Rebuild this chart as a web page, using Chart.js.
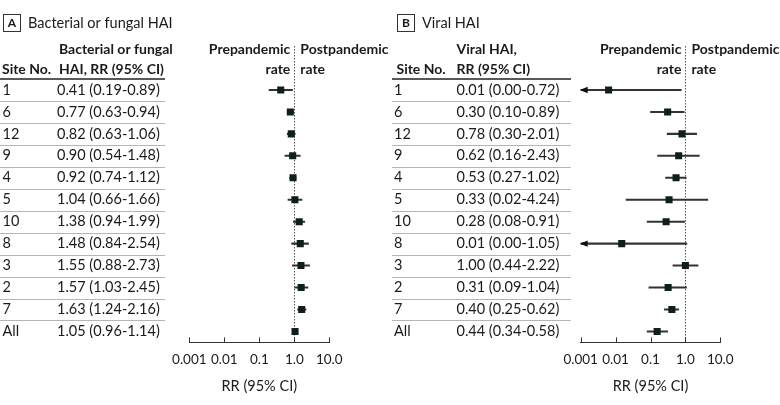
<!DOCTYPE html>
<html>
<head>
<meta charset="utf-8">
<script src="https://cdn.jsdelivr.net/npm/chart.js@4/dist/chart.umd.min.js"></script>
<style>
  body { margin: 0; background: #fff; }
  #wrap { position: relative; width: 780px; height: 405px; }
  canvas { position: absolute; top: 0; }
</style>
</head>
<body>
<div id="wrap">
  <canvas id="panelA" width="390" height="405" style="left:0"></canvas>
  <canvas id="panelB" width="390" height="405" style="left:390px"></canvas>
</div>
<script>
// axis
const xTicks = [0.001, 0.01, 0.1, 1, 10]
const xTickLabels = ["0.001", "0.01", "0.1", "1.0", "10.0"]

// panel A - bacterial or fungal HAI
const sitesA = ["1", "6", "12", "9", "4", "5", "10", "8", "3", "2", "7", "All"]
const rrTextA = ["0.41 (0.19-0.89)", "0.77 (0.63-0.94)", "0.82 (0.63-1.06)", "0.90 (0.54-1.48)",
	"0.92 (0.74-1.12)", "1.04 (0.66-1.66)", "1.38 (0.94-1.99)", "1.48 (0.84-2.54)",
	"1.55 (0.88-2.73)", "1.57 (1.03-2.45)", "1.63 (1.24-2.16)", "1.05 (0.96-1.14)"]
const estA = [0.41, 0.77, 0.82, 0.90, 0.92, 1.04, 1.38, 1.48, 1.55, 1.57, 1.63, 1.05]
const lowA = [0.19, 0.63, 0.63, 0.54, 0.74, 0.66, 0.94, 0.84, 0.88, 1.03, 1.24, 0.96]
const highA = [0.89, 0.94, 1.06, 1.48, 1.12, 1.66, 1.99, 2.54, 2.73, 2.45, 2.16, 1.14]

// panel B - viral HAI (points as drawn in the figure)
const sitesB = ["1", "6", "12", "9", "4", "5", "10", "8", "3", "2", "7", "All"]
const rrTextB = ["0.01 (0.00-0.72)", "0.30 (0.10-0.89)", "0.78 (0.30-2.01)", "0.62 (0.16-2.43)",
	"0.53 (0.27-1.02)", "0.33 (0.02-4.24)", "0.28 (0.08-0.91)", "0.01 (0.00-1.05)",
	"1.00 (0.44-2.22)", "0.31 (0.09-1.04)", "0.40 (0.25-0.62)", "0.44 (0.34-0.58)"]
const estB = [0.0063, 0.31, 0.80, 0.64, 0.54, 0.34, 0.28, 0.015, 1.0, 0.32, 0.41, 0.155]
const lowB = [0, 0.10, 0.30, 0.16, 0.27, 0.02, 0.08, 0, 0.44, 0.09, 0.25, 0.08]
const highB = [0.76, 0.92, 2.1, 2.5, 1.05, 4.4, 0.95, 1.1, 2.3, 1.08, 0.64, 0.31]

const FONT = "Lato, 'Open Sans', sans-serif"
const INK = "#1a1a1a"

function makeTablePlugin(panel) {
	return {
		id: "forestTable" + panel.letter,
		beforeDatasetsDraw(chart) {
			const { ctx, chartArea } = chart
			const x = chart.scales.x, y = chart.scales.y
			ctx.save()
			// row separators
			ctx.strokeStyle = "#b5b5b5"
			ctx.lineWidth = 1.2
			for (let i = 0; i < panel.sites.length - 1; i++) {
				const yy = Math.round((y.getPixelForValue(i) + y.getPixelForValue(i + 1)) / 2) + 0.5
				ctx.beginPath()
				ctx.moveTo(panel.lineX0, yy)
				ctx.lineTo(panel.lineX1, yy)
				ctx.stroke()
			}
			// header rule
			ctx.strokeStyle = "#222"
			ctx.lineWidth = 1.5
			ctx.beginPath()
			ctx.moveTo(panel.lineX0, chartArea.top)
			ctx.lineTo(panel.lineX1, chartArea.top)
			ctx.stroke()
			// null line
			const x1 = Math.round(x.getPixelForValue(1)) + 0.5
			ctx.strokeStyle = "#555"
			ctx.lineWidth = 1
			ctx.setLineDash([1.5, 1.5])
			ctx.beginPath()
			ctx.moveTo(x1, chartArea.top - 33)
			ctx.lineTo(x1, chartArea.bottom)
			ctx.stroke()
			ctx.restore()
		},
		afterDraw(chart) {
			const { ctx, chartArea } = chart
			const x = chart.scales.x, y = chart.scales.y
			ctx.save()
			ctx.fillStyle = INK
			ctx.textBaseline = "middle"

			// panel letter box + title
			ctx.strokeStyle = "#333"
			ctx.lineWidth = 1
			ctx.strokeRect(panel.boxX + 0.5, 14.5, 17, 17)
			ctx.font = "bold 12px " + FONT
			ctx.textAlign = "center"
			ctx.fillText(panel.letter, panel.boxX + 9, 23.5)
			ctx.font = "14.5px " + FONT
			ctx.textAlign = "left"
			ctx.fillText(panel.title, panel.boxX + 25, 23)

			// column headers
			const h1 = chartArea.top - 30, h2 = chartArea.top - 10
			ctx.font = "bold 14px " + FONT
			ctx.fillText("Site No.", panel.siteHeadX, h2)
			ctx.fillText(panel.head[0], panel.rrHeadX, h1)
			ctx.fillText(panel.head[1], panel.rrHeadX, h2)
			const x1 = x.getPixelForValue(1)
			ctx.textAlign = "right"
			ctx.fillText("Prepandemic", x1 - 4, h1)
			ctx.fillText("rate", x1 - 4, h2)
			ctx.textAlign = "left"
			ctx.fillText("Postpandemic", x1 + 6, h1)
			ctx.fillText("rate", x1 + 6, h2)

			// rows
			ctx.font = "14.5px " + FONT
			panel.sites.forEach((s, i) => {
				const yy = y.getPixelForValue(i)
				ctx.fillText(s, panel.siteX, yy)
				ctx.fillText(panel.rrText[i], panel.rrX, yy)
			})

			// arrows for truncated intervals
			ctx.fillStyle = "#111"
			const xmin = x.getPixelForValue(x.min)
			panel.low.forEach((v, i) => {
				if (v >= x.min) return
				const yy = y.getPixelForValue(i)
				ctx.beginPath()
				ctx.moveTo(xmin - 1, yy)
				ctx.lineTo(xmin + 7, yy - 3.2)
				ctx.lineTo(xmin + 7, yy + 3.2)
				ctx.closePath()
				ctx.fill()
			})

			// upward tick marks on the axis
			ctx.strokeStyle = "#333"
			ctx.lineWidth = 1
			xTicks.forEach(v => {
				const xx = Math.round(x.getPixelForValue(v)) + 0.5
				ctx.beginPath()
				ctx.moveTo(xx, chartArea.bottom - 5)
				ctx.lineTo(xx, chartArea.bottom)
				ctx.stroke()
			})
			ctx.restore()
		}
	}
}

function buildPanel(canvasId, panel) {
	const lowClamped = panel.low.map(v => Math.max(v, xTicks[0]))
	new Chart(document.getElementById(canvasId), {
		type: "bar",
		data: {
			labels: panel.sites,
			datasets: [{
				label: "95% CI",
				data: lowClamped.map((lo, i) => [lo, panel.high[i]]),
				backgroundColor: "#333",
				barThickness: 1.4,
				borderWidth: 0,
				order: 2
			}, {
				type: "line",
				label: "RR",
				indexAxis: "y",
				showLine: false,
				data: panel.est.map((v, i) => ({ x: v, y: panel.sites[i] })),
				pointStyle: "rect",
				pointRadius: 5,
				pointBorderWidth: 0,
				pointBackgroundColor: "#0f1e1e",
				order: 1
			}]
		},
		options: {
			indexAxis: "y",
			responsive: false,
			animation: false,
			layout: { padding: { left: panel.plotLeft, right: 390 - panel.plotRight, top: 79, bottom: 10 } },
			plugins: { legend: { display: false }, tooltip: { enabled: false } },
			scales: {
				y: { type: "category", display: false, offset: true },
				x: {
					type: "logarithmic",
					min: xTicks[0],
					max: xTicks[xTicks.length - 1],
					afterBuildTicks: s => { s.ticks = xTicks.map(v => ({ value: v })) },
					grid: { display: false, drawTicks: false },
					border: { display: true, color: "#333", width: 1 },
					ticks: {
						autoSkip: false,
						maxRotation: 0,
						padding: 9,
						color: INK,
						font: { family: FONT, size: 13.5 },
						callback: (v, i) => xTickLabels[i]
					},
					title: {
						display: true,
						text: "RR (95% CI)",
						color: INK,
						font: { family: FONT, size: 14.5 },
						padding: { top: 1, bottom: 0 }
					}
				}
			}
		},
		plugins: [makeTablePlugin(panel)]
	})
}

buildPanel("panelA", {
	letter: "A", title: "Bacterial or fungal HAI",
	head: ["Bacterial or fungal", "HAI, RR (95% CI)"],
	sites: sitesA, rrText: rrTextA, est: estA, low: lowA, high: highA,
	boxX: 3, siteHeadX: 2, siteX: 2.5, rrHeadX: 59, rrX: 57,
	lineX0: 0, lineX1: 165, plotLeft: 189.3, plotRight: 329.3
})

buildPanel("panelB", {
	letter: "B", title: "Viral HAI",
	head: ["Viral HAI,", "RR (95% CI)"],
	sites: sitesB, rrText: rrTextB, est: estB, low: lowB, high: highB,
	boxX: 7, siteHeadX: 6.5, siteX: 4, rrHeadX: 66.5, rrX: 66.5,
	lineX0: 2, lineX1: 181, plotLeft: 190.7, plotRight: 330.3
})
</script>
</body>
</html>
